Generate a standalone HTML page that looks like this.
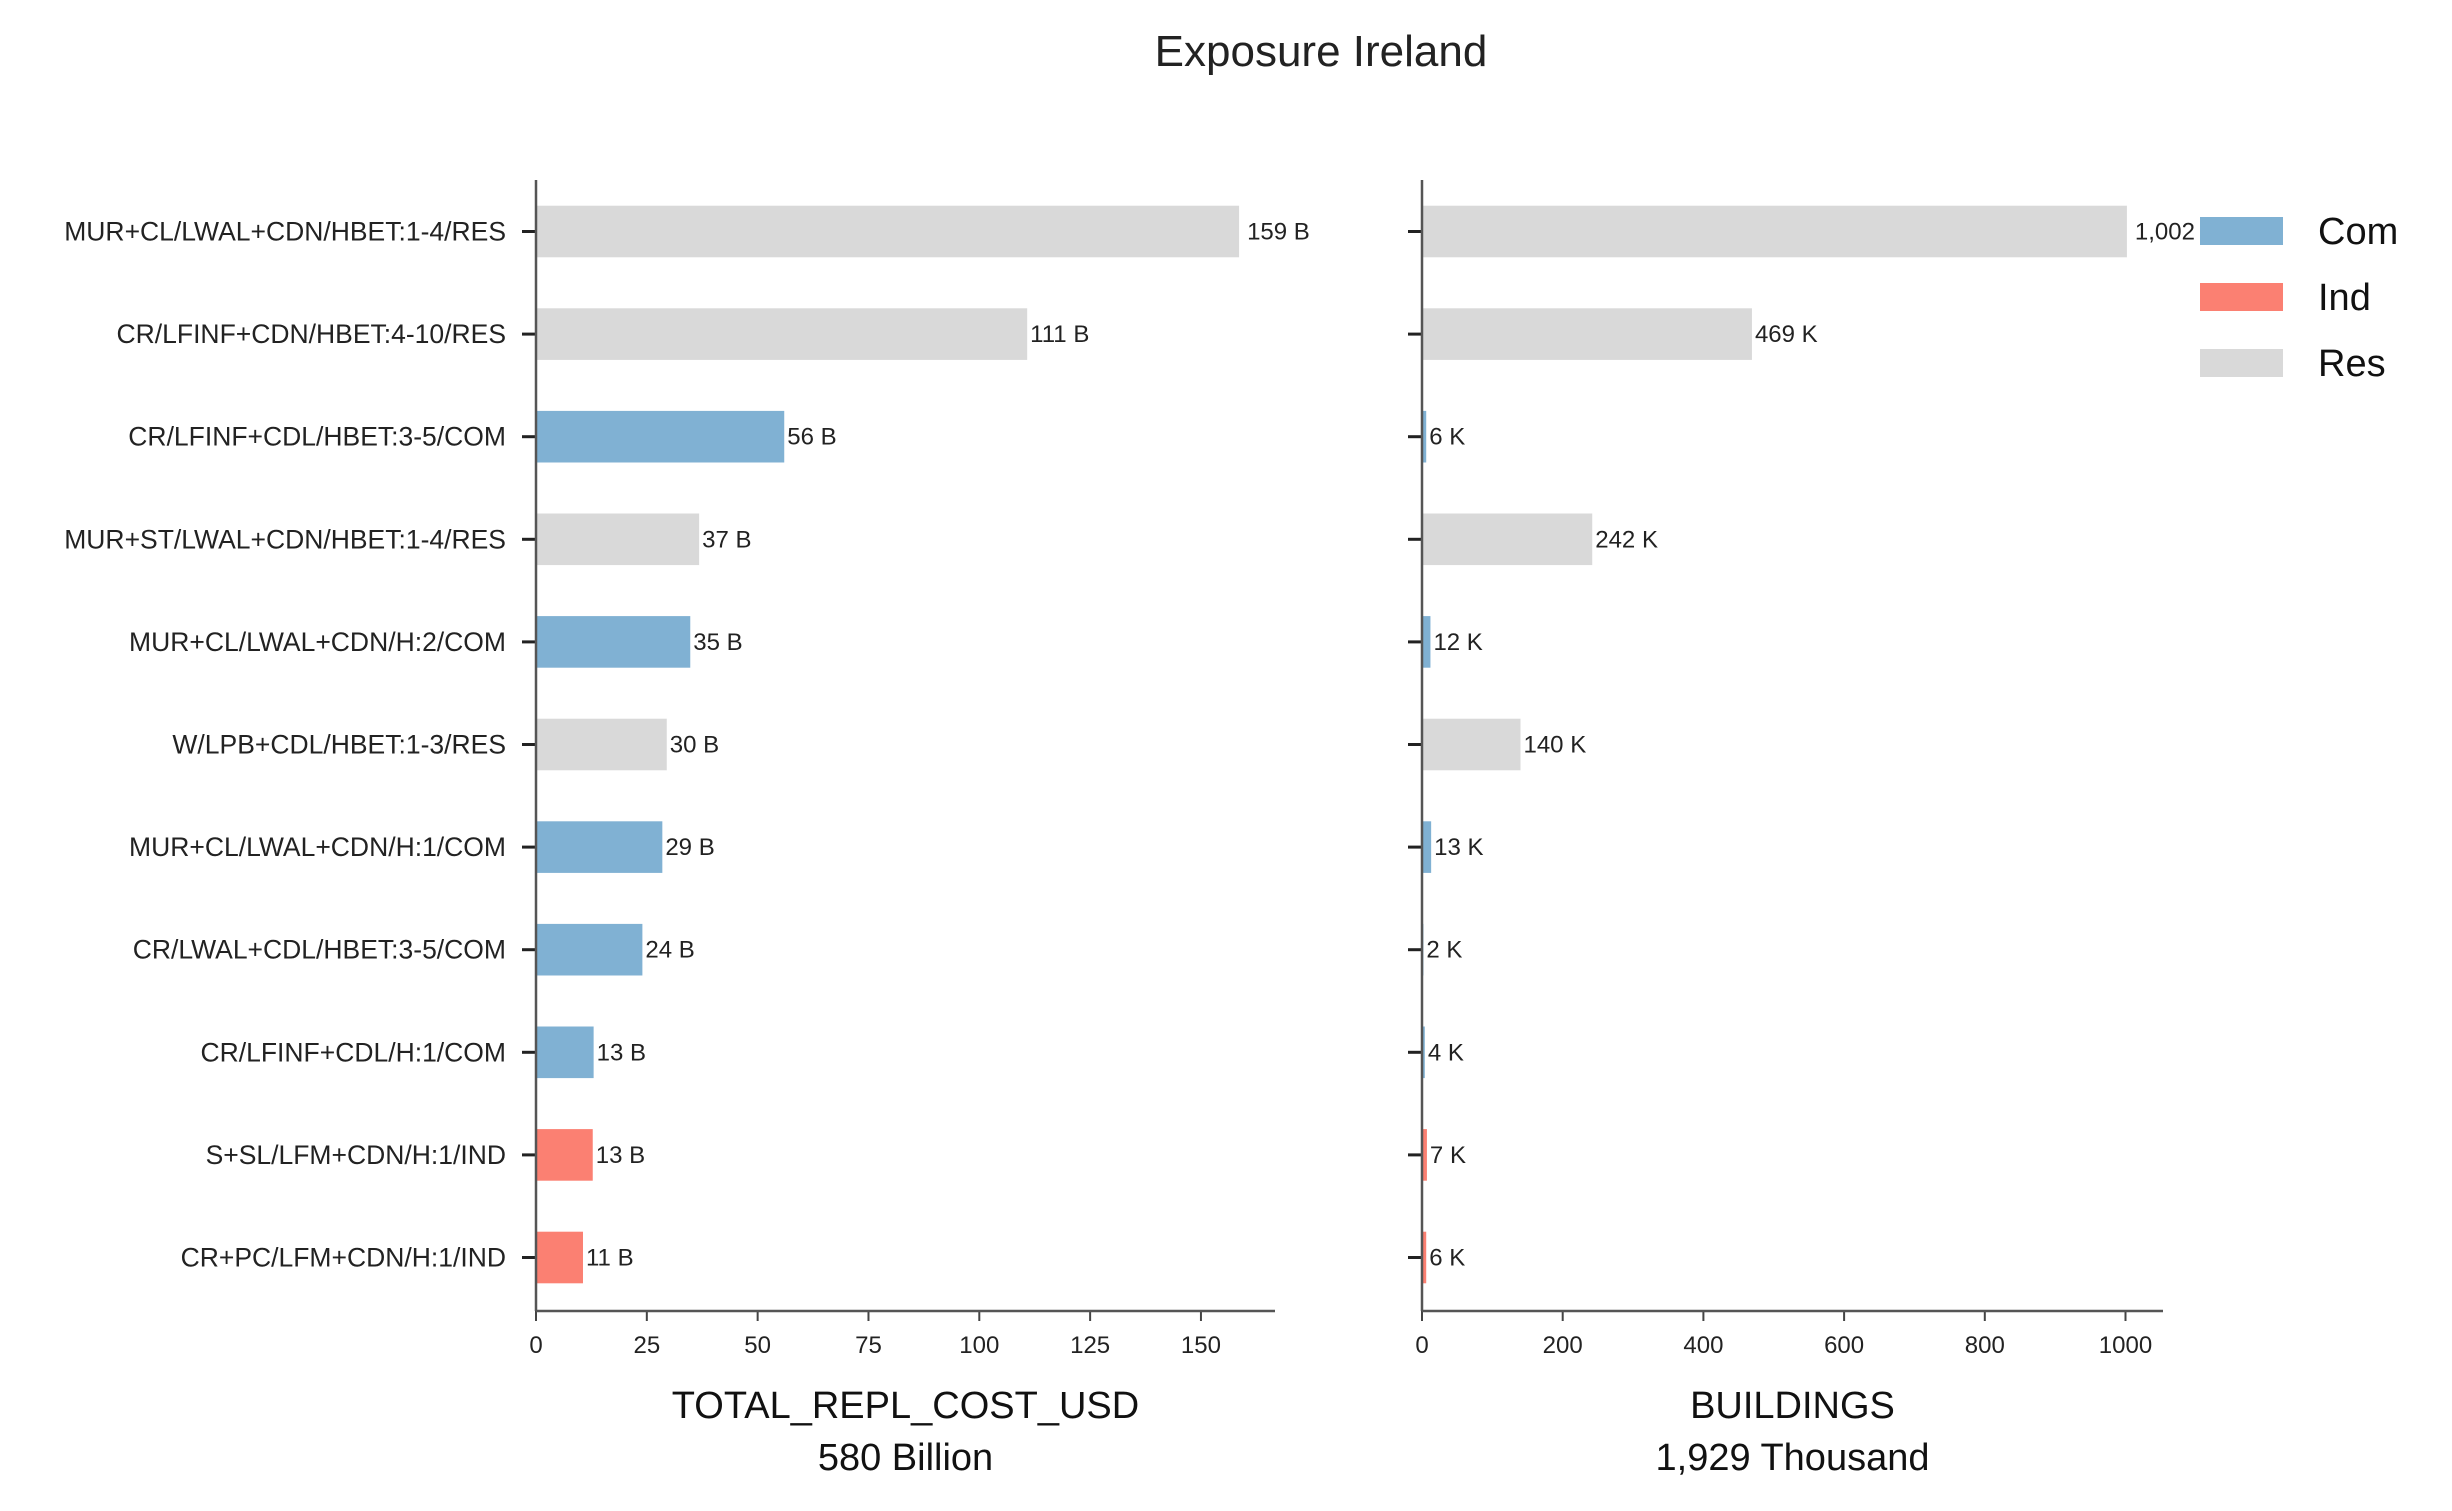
<!DOCTYPE html>
<html><head><meta charset="utf-8"><style>
body{margin:0;background:#fff}
svg{display:block;font-family:"Liberation Sans",sans-serif}
</style></head><body>
<svg id="c" width="2452" height="1511" viewBox="0 0 2452 1511">
<text x="1321" y="66" font-size="44" text-anchor="middle" fill="#222">Exposure Ireland</text>
<g id="g"></g>
</svg>
<script>
const categories=["MUR+CL/LWAL+CDN/HBET:1-4/RES","CR/LFINF+CDN/HBET:4-10/RES","CR/LFINF+CDL/HBET:3-5/COM","MUR+ST/LWAL+CDN/HBET:1-4/RES","MUR+CL/LWAL+CDN/H:2/COM","W/LPB+CDL/HBET:1-3/RES","MUR+CL/LWAL+CDN/H:1/COM","CR/LWAL+CDL/HBET:3-5/COM","CR/LFINF+CDL/H:1/COM","S+SL/LFM+CDN/H:1/IND","CR+PC/LFM+CDN/H:1/IND"];
const occupancy=["Res","Res","Com","Res","Com","Res","Com","Com","Com","Ind","Ind"];
const costValues=[158.6,110.8,56,36.8,34.8,29.5,28.5,24,13,12.8,10.6];
const costLabels=["159 B","111 B","56 B","37 B","35 B","30 B","29 B","24 B","13 B","13 B","11 B"];
const bldgValues=[1002,469,6,242,12,140,13,2,4,7,6];
const bldgLabels=["1,002 K","469 K","6 K","242 K","12 K","140 K","13 K","2 K","4 K","7 K","6 K"];
const costTicks=[0,25,50,75,100,125,150];
const bldgTicks=[0,200,400,600,800,1000];
const legendKeys=["Com","Ind","Res"];
const colors={Com:"#80b1d3",Ind:"#fb8072",Res:"#d9d9d9"};
const NS="http://www.w3.org/2000/svg";
const g=document.getElementById('g');
function el(t,a,txt){const e=document.createElementNS(NS,t);for(const k in a)e.setAttribute(k,a[k]);if(txt!=null)e.textContent=txt;g.appendChild(e);return e;}
const top0=180,bottom=1311,rowY=i=>231.5+i*102.6,barH=51.6;
function panel(x0,x1,scale,vals,labs,ticks,title,sub,showCats,pfx){
  const x=v=>x0+v*scale;
  vals.forEach((v,i)=>{
    const r=el('rect',{x:x0,y:rowY(i)-barH/2,width:Math.max(0,x(v)-x0),height:barH,fill:colors[occupancy[i]]});
    
    
    const t=el('text',{x:x(v)+(i==0?8:3),y:rowY(i)+8,'font-size':24,fill:'#222'},labs[i]);
    
    
    const tk=el('line',{x1:x0-14,x2:x0,y1:rowY(i),y2:rowY(i),stroke:'#222','stroke-width':3});
    
    
    if(showCats){
      const c=el('text',{x:x0-30,y:rowY(i)+9,'font-size':26.5,'text-anchor':'end',fill:'#222'},categories[i]);
      
      
    }
  });
  ticks.forEach(t=>{
    const l=el('line',{x1:x(t),x2:x(t),y1:bottom,y2:bottom+10,stroke:'#444','stroke-width':2});
    
    
    const tl=el('text',{x:x(t),y:bottom+42,'font-size':24,'text-anchor':'middle',fill:'#222'},String(t));
    
    
  });
  const ya=el('line',{x1:x0,x2:x0,y1:top0,y2:bottom,stroke:'#555','stroke-width':2.5});
  
  
  const xa=el('line',{x1:x0,x2:x1,y1:bottom,y2:bottom,stroke:'#555','stroke-width':2.5});
  
  
  const cx=(x0+x1)/2;
  const a=el('text',{x:cx,y:1418,'font-size':38,'text-anchor':'middle',fill:'#111'},title);
  
  
  const s=el('text',{x:cx,y:1470,'font-size':38,'text-anchor':'middle',fill:'#111'},sub);
  
  
}
panel(536,1275,4.433,costValues,costLabels,costTicks,"TOTAL_REPL_COST_USD","580 Billion",true,'cost');
panel(1422,2163,0.7035,bldgValues,bldgLabels,bldgTicks,"BUILDINGS","1,929 Thousand",false,'buildings');
legendKeys.forEach((k,i)=>{
  const y=231+i*66;
  const p=el('rect',{x:2200,y:y-14,width:83,height:28,fill:colors[k]});
  
  
  const t=el('text',{x:2318,y:y+13,'font-size':38,fill:'#111'},k);
  
  
});
</script>
</body></html>
